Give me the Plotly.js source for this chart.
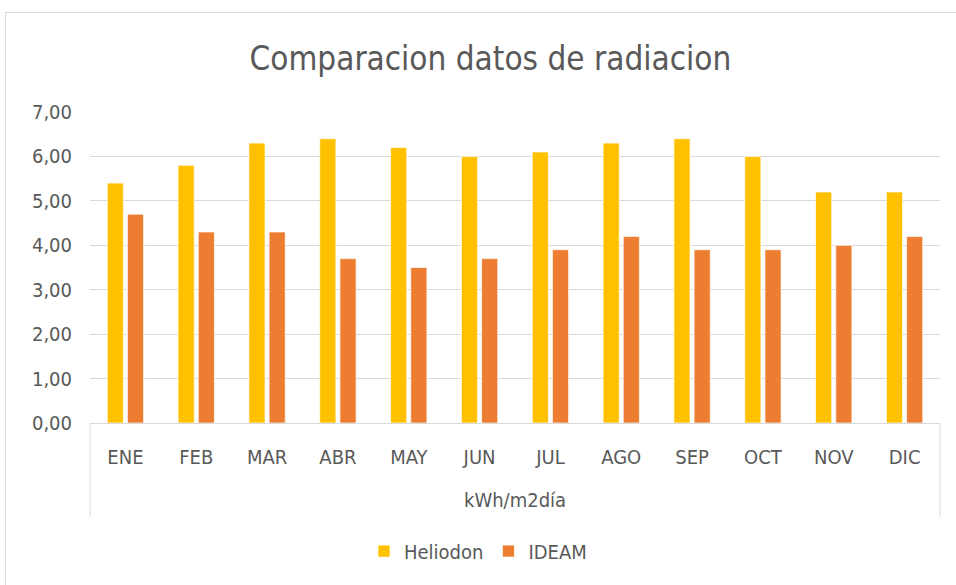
<!DOCTYPE html>
<html>
<head>
<meta charset="utf-8">
<script src="https://cdn.plot.ly/plotly-3.0.1.min.js"></script>
<style>
  body { margin: 0; background: #fff; }
  #frame { position: absolute; left: 5px; top: 12px; width: 980px; height: 600px; border: 1px solid #d9d9d9; }
  #chart { position: absolute; left: 0; top: 0; width: 956px; height: 585px; }
</style>
</head>
<body>
<div id="frame"></div>
<div id="chart"></div>
<script>
const months = ["ENE","FEB","MAR","ABR","MAY","JUN","JUL","AGO","SEP","OCT","NOV","DIC"];
const groupLabel = "kWh/m2día";
const heliodon = [5.4, 5.8, 6.3, 6.4, 6.2, 6.0, 6.1, 6.3, 6.4, 6.0, 5.2, 5.2];
const ideam    = [4.7, 4.3, 4.3, 3.7, 3.5, 3.7, 3.9, 4.2, 3.9, 3.9, 4.0, 4.2];
const seriesNames = ["Heliodon", "IDEAM"];
const yTicks = [0,1,2,3,4,5,6,7];

const FONT = '"Liberation Sans Narrow", "DejaVu Sans Condensed", Roboto, "Open Sans", sans-serif';
const TXT = '#595959';
const GRID = '#d9d9d9';

const traces = [
  { type: 'bar', name: seriesNames[0], x: months, y: heliodon,
    marker: { color: '#FFC000', line: { color: 'rgba(255,255,255,0.7)', width: 1 } } },
  { type: 'bar', name: seriesNames[1], x: months, y: ideam,
    marker: { color: '#ED7D31', line: { color: 'rgba(255,255,255,0.7)', width: 1 } } }
];

// plot area height in px (for converting divider length to paper units)
const plotH = 585 - 112 - 162;
const divLen = 94 / plotH;

const layout = {
  width: 956, height: 585,
  paper_bgcolor: 'rgba(0,0,0,0)', plot_bgcolor: 'rgba(0,0,0,0)',
  margin: { l: 90, r: 16, t: 112, b: 162 },
  separators: ',.',
  font: { family: FONT, color: TXT, size: 20 },
  title: { text: 'Comparacion datos de radiacion', x: 0.513, xanchor: 'center', y: 0.9, yanchor: 'middle',
           font: { family: FONT, size: 33, color: TXT } },
  barmode: 'group', bargap: 0.43, bargroupgap: 0.2,
  xaxis: { type: 'category', showgrid: false, showline: false, zeroline: false,
           ticks: '', ticklabelstandoff: 20, tickfont: { family: FONT, size: 20, color: TXT } },
  yaxis: { range: [0, 7], tickvals: yTicks, tickformat: '.2f', showgrid: true, gridcolor: GRID, gridwidth: 1,
           zeroline: true, zerolinecolor: GRID, zerolinewidth: 1, showline: false, ticks: '',
           ticklabelstandoff: 17, tickfont: { family: FONT, size: 20, color: TXT } },
  annotations: [
    { text: groupLabel, xref: 'paper', yref: 'paper', x: 0.5, y: -0.248, xanchor: 'center', yanchor: 'middle',
      showarrow: false, font: { family: FONT, size: 20, color: TXT } }
  ],
  shapes: [
    { type: 'line', xref: 'paper', yref: 'paper', x0: 0, x1: 0, y0: 0, y1: -divLen, line: { color: GRID, width: 1 } },
    { type: 'line', xref: 'paper', yref: 'paper', x0: 1, x1: 1, y0: 0, y1: -divLen, line: { color: GRID, width: 1 } }
  ],
  showlegend: true,
  legend: { orientation: 'h', x: 0.5, xanchor: 'center', xref: 'container', y: 0.058, yref: 'container', yanchor: 'middle',
            font: { family: FONT, size: 20, color: TXT }, itemwidth: 30, traceorder: 'normal' }
};

Plotly.newPlot('chart', traces, layout, { displayModeBar: false, staticPlot: true });
</script>
</body>
</html>
